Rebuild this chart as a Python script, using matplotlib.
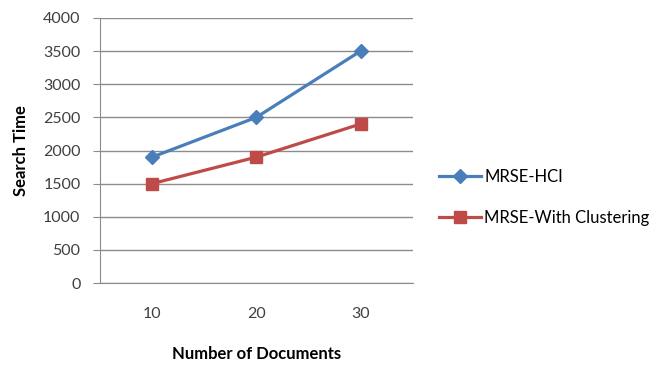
import matplotlib.pyplot as plt

docs = ['10', '20', '30']
hci = [1900, 2500, 3500]
clustering = [1500, 1900, 2400]

plt.rcParams['font.family'] = ['Lato', 'DejaVu Sans']

fig = plt.figure(figsize=(6.53, 3.73), dpi=100)
ax = fig.add_axes([0.153, 0.241, 0.479, 0.711])

x = range(len(docs))
l1, = ax.plot(x, hci, color='#4A7EBB', lw=2.3, marker='D', ms=7, label='MRSE-HCI')
l2, = ax.plot(x, clustering, color='#BE4B48', lw=2.3, marker='s', ms=9, label='MRSE-With Clustering')

ax.set_xlim(-0.5, 2.5)
ax.set_ylim(0, 4000)
ax.set_yticks(range(0, 4001, 500))
ax.set_xticks(list(x))
ax.set_xticklabels(docs)
ax.yaxis.grid(True, color='#8c8c8c', lw=1)
ax.set_axisbelow(True)
for s in ['top', 'right']:
    ax.spines[s].set_visible(False)
ax.spines['left'].set_color('#8c8c8c')
ax.spines['bottom'].set_color('#8c8c8c')
ax.tick_params(axis='y', length=5, color='#8c8c8c', pad=9, labelsize=11.5)
ax.tick_params(axis='x', length=0, pad=17, labelsize=11.5)
for t in ax.get_yticklabels() + ax.get_xticklabels():
    t.set_color('#404040')
ax.set_ylabel('Search Time', fontweight='bold', fontsize=12, labelpad=10)
ax.set_xlabel('Number of Documents', fontweight='bold', fontsize=12, labelpad=18)

fig.legend(handles=[l1, l2], loc='center left', bbox_to_anchor=(0.673, 0.47),
           frameon=False, fontsize=12, handlelength=2.5, labelspacing=1.5,
           handletextpad=0.2, borderaxespad=0, borderpad=0)

fig.savefig('out.png', dpi=100)
